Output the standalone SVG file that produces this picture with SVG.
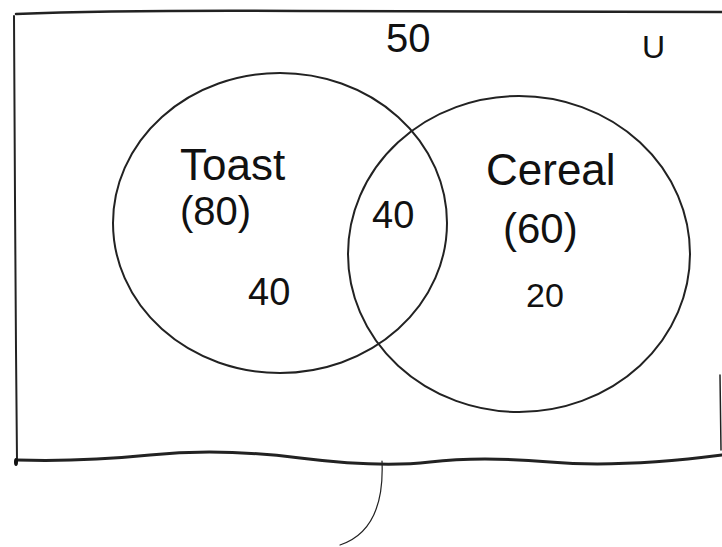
<svg xmlns="http://www.w3.org/2000/svg" width="722" height="547" viewBox="0 0 722 547">
<style>
.ln{fill:none;stroke:#222;stroke-linecap:round}
.t{font-family:"Liberation Sans","DejaVu Sans",sans-serif;fill:#111;font-weight:300}
</style>
<rect width="722" height="547" fill="#fff"/>
<g id="frame">
<path class="ln" stroke-width="2.5" d="M16,14 Q120,10 300,11 T722,12"/>
<path class="ln" stroke-width="2" d="M14,16 L15,200 L16,350 L17,461"/>
<path class="ln" stroke-width="3" d="M17,460 Q80,462 150,455 T300,458 T430,462 T550,462 T722,455"/>
<path class="ln" stroke-width="1.5" d="M720,375 L721,450"/>
<ellipse cx="16" cy="462" rx="2" ry="4" fill="#111"/>
</g>
<g id="toast">
<ellipse class="ln" stroke-width="2" cx="280" cy="223" rx="167" ry="150"/>
<text class="t" x="180" y="180" font-size="44">Toast</text>
<text class="t" x="180" y="225" font-size="40">(80)</text>
<text class="t" x="248" y="305" font-size="38">40</text>
</g>
<g id="cereal">
<ellipse class="ln" stroke-width="2" cx="519" cy="254" rx="171" ry="158"/>
<text class="t" x="486" y="185" font-size="44">Cereal</text>
<text class="t" x="503" y="243" font-size="42">(60)</text>
<text class="t" x="526" y="307" font-size="34">20</text>
</g>
<g id="intersection">
<text class="t" x="372" y="228" font-size="38">40</text>
</g>
<g id="universe">
<text class="t" x="386" y="52" font-size="40">50</text>
<text class="t" x="642" y="58" font-size="32">U</text>
</g>
<g id="connectors">
<path class="ln" stroke-width="1.2" d="M382,461 Q385,530 340,545"/>
</g>
</svg>
